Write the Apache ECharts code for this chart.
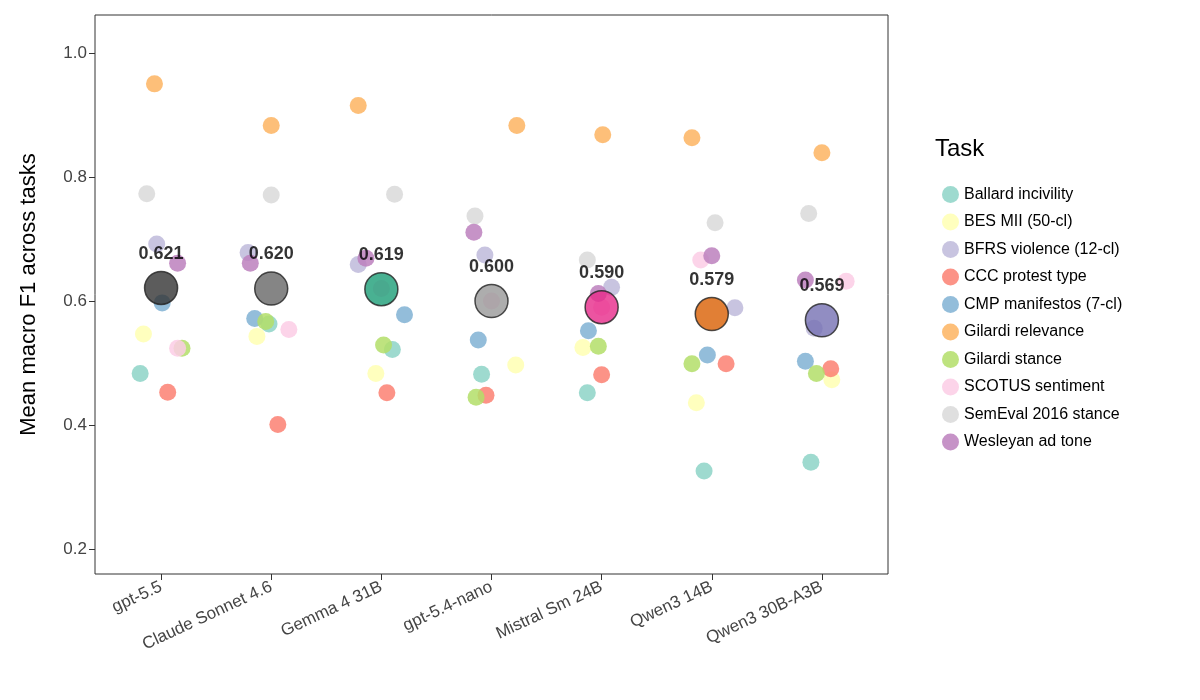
<!DOCTYPE html><html><head><meta charset="utf-8"><script src="https://cdn.jsdelivr.net/npm/echarts@6/dist/echarts.min.js"></script></head><body style="margin:0"><div id="c" style="width:1200px;height:700px"></div><script>
const models=["gpt-5.5","Claude Sonnet 4.6","Gemma 4 31B","gpt-5.4-nano","Mistral Sm 24B","Qwen3 14B","Qwen3 30B-A3B"];
const tasks=["Ballard incivility","BES MII (50-cl)","BFRS violence (12-cl)","CCC protest type","CMP manifestos (7-cl)","Gilardi relevance","Gilardi stance","SCOTUS sentiment","SemEval 2016 stance","Wesleyan ad tone"];
const taskColors=["#8dd3c7","#ffffb3","#bebada","#fb8072","#80b1d3","#fdb462","#b3de69","#fccde5","#d9d9d9","#bc80bd"];
// values[task][model]
const values=[
[0.483,0.563,0.522,0.482,0.452,0.326,0.340],
[0.547,0.543,0.483,0.497,0.525,0.436,0.473],
[0.692,0.678,0.659,0.674,0.622,0.589,0.556],
[0.453,0.401,0.452,0.448,0.481,0.499,0.491],
[0.597,0.572,0.578,0.537,0.552,0.513,0.503],
[0.950,0.883,0.915,0.883,0.868,0.863,0.839],
[0.524,0.567,0.529,0.445,0.527,0.499,0.483],
[0.524,0.554,0.620,0.600,0.590,0.666,0.632],
[0.773,0.771,0.772,0.737,0.666,0.726,0.741],
[0.661,0.661,0.669,0.711,0.612,0.673,0.634]];
// horizontal jitter (category units)
const jitter=[
[-0.19,-0.02,0.10,-0.09,-0.13,-0.07,-0.10],
[-0.16,-0.13,-0.05,0.22,-0.17,-0.14,0.09],
[-0.04,-0.21,-0.21,-0.06,0.09,0.21,-0.07],
[0.06,0.06,0.05,-0.05,0.00,0.13,0.08],
[0.01,-0.15,0.21,-0.12,-0.12,-0.04,-0.15],
[-0.06,0.00,-0.21,0.23,0.01,-0.18,0.00],
[0.19,-0.05,0.02,-0.14,-0.03,-0.18,-0.05],
[0.15,0.16,0.00,0.00,0.00,-0.10,0.22],
[-0.13,0.00,0.12,-0.15,-0.13,0.03,-0.12],
[0.15,-0.19,-0.14,-0.16,-0.03,0.00,-0.15]];
const means=[0.621,0.620,0.619,0.600,0.590,0.579,0.569];
const meanColors=["#333333","#666666","#1b9e77","#999999","#e7298a","#d95f02","#7570b3"];
const series=tasks.map((t,i)=>({name:t,type:'scatter',symbolSize:17,
 itemStyle:{color:taskColors[i],opacity:0.85},
 data:values[i].map((v,j)=>[j+jitter[i][j],v])}));
series.push({name:'mean',type:'scatter',symbolSize:33,z:10,
 data:means.map((v,j)=>({value:[j,v],itemStyle:{color:meanColors[j],borderColor:'#222',borderWidth:1.5}})),
 label:{show:true,position:'top',distance:8,fontSize:18,fontWeight:'bold',color:'#000',textBorderWidth:0,formatter:p=>p.value[1].toFixed(3)}});
const ch=echarts.init(document.getElementById('c'));
ch.setOption({animation:false,backgroundColor:'#fff',
 textStyle:{fontFamily:'Liberation Sans'},
 grid:{left:95,right:312,top:15,bottom:126,show:true,borderColor:'#333',borderWidth:1},
 xAxis:{type:'value',min:-0.6,max:6.6,splitLine:{show:false},
  axisLine:{show:false,onZero:false},
  axisTick:{show:true,length:6,customValues:[0,1,2,3,4,5,6],lineStyle:{color:'#333'}},
  axisLabel:{customValues:[0,1,2,3,4,5,6],rotate:25,fontSize:17,color:'#444',margin:12,formatter:v=>models[Math.round(v)]}},
 yAxis:{type:'value',min:0.16,max:1.061,splitLine:{show:false},axisLine:{show:false,onZero:false},
  name:'Mean macro F1 across tasks',nameLocation:'middle',nameGap:55,nameTextStyle:{fontSize:22,color:'#000'},
  axisTick:{show:true,length:6,customValues:[0.2,0.4,0.6,0.8,1.0],lineStyle:{color:'#333'}},
  axisLabel:{customValues:[0.2,0.4,0.6,0.8,1.0],fontSize:17,color:'#444',formatter:v=>v.toFixed(1)}},
 legend:{data:tasks.map((t,i)=>({name:t,itemStyle:{color:taskColors[i]}})),orient:'vertical',left:937,top:181,icon:'circle',itemWidth:17,itemHeight:17,itemGap:10.5,textStyle:{fontSize:16,color:'#000'}},
 graphic:[{type:'text',left:935,top:137,style:{text:'Task',fontSize:24,fill:'#000',fontFamily:'Liberation Sans'}}],
 series});
</script></body></html>
